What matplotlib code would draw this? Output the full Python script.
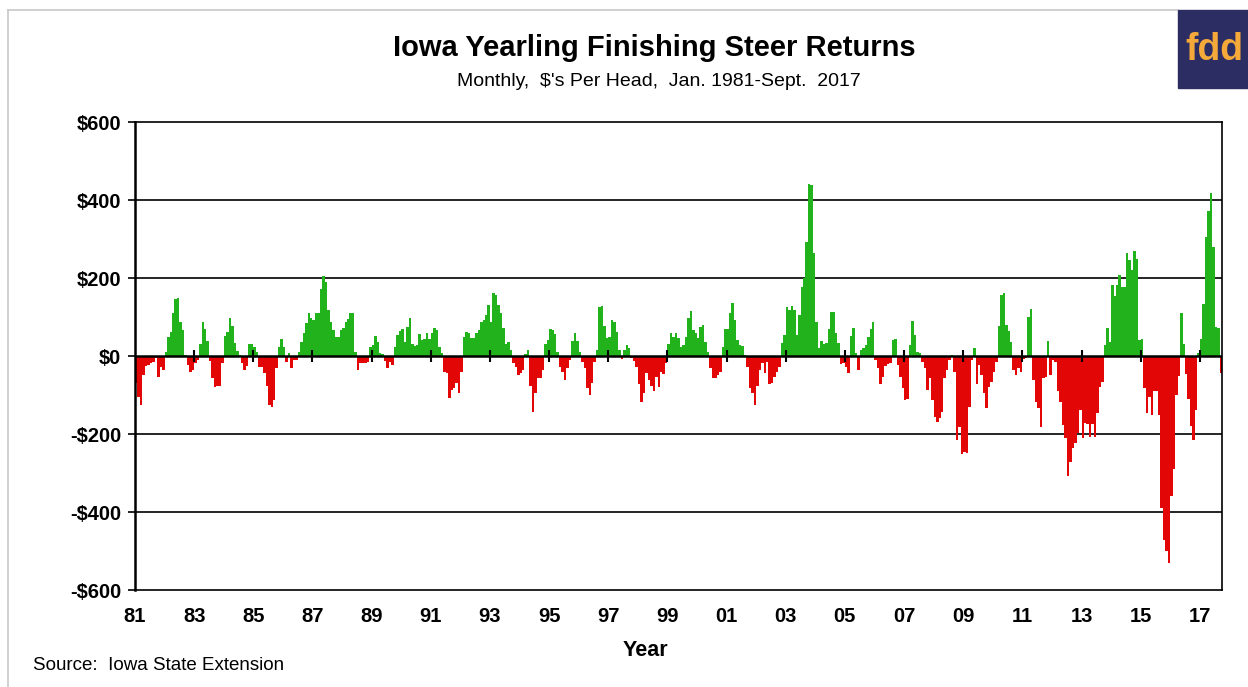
import matplotlib
matplotlib.use("Agg")
import matplotlib.pyplot as plt
from matplotlib.patches import Rectangle
from matplotlib.lines import Line2D
import numpy as np

# Monthly returns, $ per head (Jan 1981 - Sept 2017)
y1981 = [-68, -104, -126, -49, -26, -23, -17, -15, -6, -53, -29, -36]
y1982 = [11, 48, 61, 109, 145, 150, 88, 67, 3, -23, -40, -36]
y1983 = [-17, -10, 32, 88, 68, 38, -13, -57, -80, -77, -77, -19]
y1984 = [52, 62, 97, 78, 34, 13, 2, -19, -36, -26, 32, 30]
y1985 = [22, 11, -27, -27, -44, -77, -126, -132, -113, -32, 22, 43]
y1986 = [22, -15, 7, -32, -10, -10, 11, 37, 60, 84, 109, 97]
y1987 = [92, 109, 109, 171, 205, 191, 118, 88, 67, 50, 50, 67]
y1988 = [71, 88, 95, 109, 109, 10, -36, -19, -19, -19, -15, 24]
y1989 = [28, 51, 37, 7, 5, -13, -32, -15, -23, 24, 54, 65]
y1990 = [68, 37, 75, 97, 31, 26, 28, 56, 41, 43, 60, 43]
y1991 = [60, 71, 67, 24, 7, -40, -44, -108, -87, -83, -70, -96]
y1992 = [-40, 48, 62, 58, 45, 45, 58, 67, 88, 92, 105, 131]
y1993 = [88, 161, 156, 131, 109, 71, 32, 37, 15, -19, -27, -49]
y1994 = [-44, -36, 5, 15, -77, -143, -94, -57, -57, -36, 32, 41]
y1995 = [68, 67, 56, 11, -27, -40, -62, -32, -10, 39, 60, 39]
y1996 = [11, -15, -32, -83, -100, -70, -15, 15, 125, 128, 77, 45]
y1997 = [48, 92, 88, 62, 15, -8, 15, 28, 20, -5, -13, -27]
y1998 = [-73, -117, -94, -44, -62, -77, -91, -53, -80, -40, -46, -19]
y1999 = [32, 58, 50, 60, 45, 24, 28, 50, 97, 116, 67, 58]
y2000 = [45, 75, 80, 37, 10, -32, -57, -57, -49, -40, 24, 68]
y2001 = [68, 111, 137, 92, 41, 28, 26, 3, -27, -83, -96, -126]
y2002 = [-77, -36, -19, -43, -15, -72, -68, -53, -40, -27, 34, 54]
y2003 = [125, 118, 128, 118, 54, 105, 178, 200, 293, 441, 438, 263]
y2004 = [88, 20, 39, 32, 34, 68, 114, 114, 60, 34, -20, -19]
y2005 = [-27, -44, 51, 71, 7, -36, 15, 20, 28, 50, 68, 88]
y2006 = [-10, -32, -72, -53, -26, -21, -19, 41, 43, -23, -53, -83]
y2007 = [-113, -109, 28, 91, 54, 11, 7, -15, -32, -87, -57, -113]
y2008 = [-156, -168, -160, -143, -57, -36, -10, 3, -40, -215, -181, -250]
y2009 = [-245, -248, -130, -10, 20, -72, -23, -49, -96, -134, -79, -66]
y2010 = [-40, -15, 77, 156, 161, 80, 65, 37, -36, -49, -32, -40]
y2011 = [-8, -6, 101, 120, -62, -117, -134, -181, -57, -53, 39, -49]
y2012 = [-10, -15, -91, -117, -177, -211, -308, -271, -237, -224, -198, -139]
y2013 = [-209, -173, -175, -207, -175, -207, -147, -79, -66, 28, 71, 37]
y2014 = [182, 154, 182, 208, 178, 178, 263, 246, 221, 270, 250, 41]
y2015 = [43, -83, -145, -104, -151, -91, -91, -151, -390, -471, -501, -532]
y2016 = [-359, -291, -100, -51, 111, 32, -46, -109, -180, -215, -139, 7]
y2017 = [43, 133, 306, 373, 417, 280, 75, 71, -43]

yearly = [y1981, y1982, y1983, y1984, y1985, y1986, y1987, y1988, y1989, y1990,
          y1991, y1992, y1993, y1994, y1995, y1996, y1997, y1998, y1999, y2000,
          y2001, y2002, y2003, y2004, y2005, y2006, y2007, y2008, y2009, y2010,
          y2011, y2012, y2013, y2014, y2015, y2016, y2017]
returns = [v for yr in yearly for v in yr]

x_tick_labels = ["81", "83", "85", "87", "89", "91", "93", "95", "97", "99",
                 "01", "03", "05", "07", "09", "11", "13", "15", "17"]
y_ticks = [-600, -400, -200, 0, 200, 400, 600]
y_tick_labels = ["-$600", "-$400", "-$200", "$0", "$200", "$400", "$600"]

GREEN = "#22B21C"
RED = "#E20606"

plt.rcParams['font.family'] = ['Liberation Sans', 'DejaVu Sans']

W, H = 1248, 687
fig = plt.figure(figsize=(W / 100, H / 100), dpi=100)
fig.patch.set_facecolor("white")

ax = fig.add_axes([135 / W, 1 - 590 / H, (1222 - 135) / W, (590 - 122) / H])
n = len(returns)
x = np.arange(n)
colors = [GREEN if v >= 0 else RED for v in returns]
ax.bar(x, returns, width=1.0, color=colors, linewidth=0, zorder=2)

ax.set_xlim(-0.5, n - 0.5)
ax.set_ylim(-600, 600)

# gridlines
for v in y_ticks:
    if v not in (0, 600, -600):
        ax.axhline(v, color="black", lw=1.2, zorder=1)
ax.axhline(0, color="black", lw=1.8, zorder=3)

ax.set_yticks(y_ticks)
ax.set_yticklabels(y_tick_labels, fontsize=14.5, fontweight="bold")
ax.tick_params(axis="y", length=5, width=1.2, pad=5, direction="out")

tick_pos = np.arange(0, n, 24) - 0.5
ax.set_xticks(tick_pos)
ax.set_xticklabels(x_tick_labels, fontsize=14.5, fontweight="bold")
ax.tick_params(axis="x", length=0, pad=12)
# tick marks crossing the zero line
ax.vlines(tick_pos[1:], -16, 16, color="black", lw=1.5, zorder=4)

for s in ax.spines.values():
    s.set_color("black")
    s.set_linewidth(1.2)
ax.spines["left"].set_linewidth(1.8)

# titles
fig.text(654 / W, 1 - 48 / H, "Iowa Yearling Finishing Steer Returns",
         ha="center", va="center", fontsize=21, fontweight="bold")
fig.text(659 / W, 1 - 81 / H, "Monthly,  $'s Per Head,  Jan. 1981-Sept.  2017",
         ha="center", va="center", fontsize=14)
fig.text(645 / W, 1 - 651 / H, "Year", ha="center", va="center",
         fontsize=15.5, fontweight="bold")
fig.text(33 / W, 1 - 666 / H, "Source:  Iowa State Extension", ha="left",
         va="center", fontsize=13.5)

# outer frame (left and top)
fig.add_artist(Line2D([8 / W, 8 / W], [0, 1 - 10 / H], transform=fig.transFigure,
                      color="#c8c8c8", lw=1.2))
fig.add_artist(Line2D([8 / W, 1178 / W], [1 - 10 / H, 1 - 10 / H],
                      transform=fig.transFigure, color="#c8c8c8", lw=1.2))

# logo
fig.add_artist(Rectangle((1178 / W, 1 - 88 / H), 70 / W, 78 / H,
                         transform=fig.transFigure, color="#2c2d62", zorder=5))
fig.text(1214 / W, 1 - 50 / H, "fdd", ha="center", va="center", fontsize=27,
         fontweight="bold", color="#F4A93A", zorder=6)

fig.savefig("out.png", dpi=100)
